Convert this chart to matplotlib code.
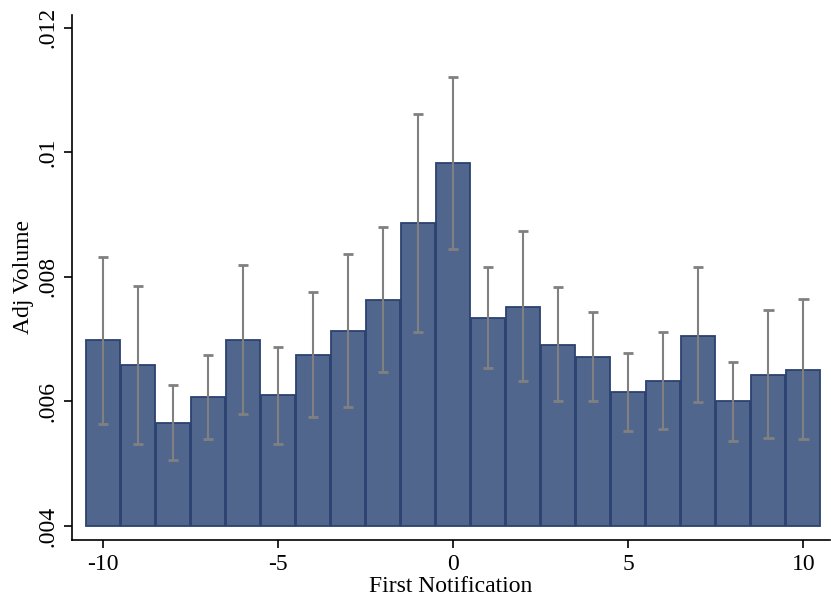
import numpy as np
import matplotlib
matplotlib.use('Agg')
from matplotlib import pyplot as plt

# Event time relative to first notification
days = [-10, -9, -8, -7, -6, -5, -4, -3, -2, -1, 0,
        1, 2, 3, 4, 5, 6, 7, 8, 9, 10]
# Mean adjusted volume
adj_volume = [0.00698, 0.00659, 0.00565, 0.00607, 0.00698, 0.00610, 0.00675,
              0.00713, 0.00763, 0.00887, 0.00983, 0.00734, 0.00752, 0.00691,
              0.00672, 0.00615, 0.00633, 0.00705, 0.00600, 0.00643, 0.00651]
# Confidence interval bounds
ci_high = [0.00832, 0.00786, 0.00626, 0.00675, 0.00819, 0.00688, 0.00776,
           0.00837, 0.00880, 0.01062, 0.01121, 0.00816, 0.00874, 0.00784,
           0.00744, 0.00677, 0.00711, 0.00815, 0.00664, 0.00746, 0.00765]
ci_low = [0.00564, 0.00532, 0.00506, 0.00539, 0.00580, 0.00532, 0.00575,
          0.00591, 0.00647, 0.00712, 0.00845, 0.00654, 0.00633, 0.00600,
          0.00600, 0.00553, 0.00555, 0.00599, 0.00537, 0.00542, 0.00539]
y_ticks = [0.004, 0.006, 0.008, 0.010, 0.012]
y_tick_labels = ['.004', '.006', '.008', '.01', '.012']
x_ticks = [-10, -5, 0, 5, 10]
x_tick_labels = ['-10', '-5', '0', '5', '10']

plt.rcParams['font.family'] = ['Liberation Serif', 'DejaVu Serif']

fig = plt.figure(figsize=(8.31, 6.01), dpi=100)
ax = fig.add_axes([0.0866, 0.1015, 0.9125, 0.8742])

base = 0.004
heights = np.array(adj_volume) - base
ax.bar(days, heights, bottom=base, width=0.97, color='#51668d',
       edgecolor='#2b4170', linewidth=1.3, zorder=2)
# Error bars with caps
x = np.array(days)
ax.vlines(x, ci_low, ci_high, color='#808080', linewidth=1.5, zorder=3)
ax.hlines(ci_high, x - 0.15, x + 0.15, color='#808080', linewidth=2.0,
          zorder=3)
ax.hlines(ci_low, x - 0.15, x + 0.15, color='#808080', linewidth=2.0,
          zorder=3)

ax.set_xlim(-10.88, 10.77)
ax.set_ylim(0.003775, 0.01221)
ax.set_xticks(x_ticks)
ax.set_xticklabels(x_tick_labels)
ax.set_yticks(y_ticks)
ax.set_yticklabels(y_tick_labels, rotation=90, va='center')
ax.tick_params(axis='both', labelsize=17, length=6, width=1.2, direction='out',
               pad=4)
ax.spines['top'].set_visible(False)
ax.spines['right'].set_visible(False)
ax.spines['left'].set_linewidth(1.2)
ax.spines['bottom'].set_linewidth(1.2)
ax.set_xlabel('First Notification', fontsize=17, labelpad=1)
ax.set_ylabel('Adj Volume', fontsize=17, labelpad=2)

fig.savefig('out.png', dpi=100)
